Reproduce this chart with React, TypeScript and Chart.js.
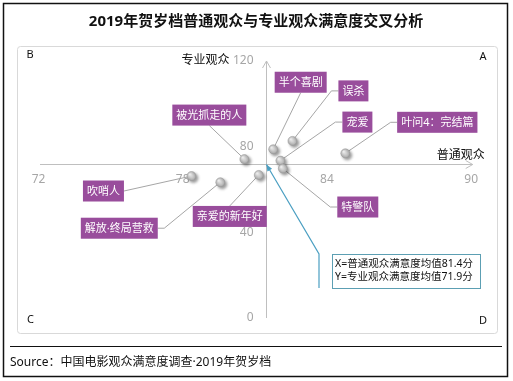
import { useEffect, useRef } from 'react';
import { Chart, registerables } from 'chart.js';

Chart.register(...registerables);

const TITLE = '2019年贺岁档普通观众与专业观众满意度交叉分析';
const SOURCE = 'Source：中国电影观众满意度调查·2019年贺岁档';

const movies = ['半个喜剧', '误杀', '宠爱', '特警队', '被光抓走的人', '亲爱的新年好', '叶问4：完结篇', '吹哨人', '解放·终局营救'];
const generalScores = [81.7, 82.5, 82.0, 82.1, 80.5, 81.1, 84.7, 78.3, 79.5];
const proScores = [78.8, 82.7, 73.5, 69.8, 74.2, 66.8, 76.9, 66.3, 63.4];

const xTicks = [72, 78, 84, 90];
const yTicks = [0, 40, 80, 120];
const meanGeneral = 81.4;
const meanPro = 71.9;
const xAxisTitle = '普通观众';
const yAxisTitle = '专业观众';
const noteLines = [`X=普通观众满意度均值${meanGeneral}分`, `Y=专业观众满意度均值${meanPro}分`];

// layout of label boxes: pixel offset of the box centre from its point
const labelLayout = [
  { dx: 27.5, dy: -67, side: 'bottom', stub: 0 },
  { dx: 61, dy: -50, side: 'left', stub: 7 },
  { dx: 77, dy: -38.5, side: 'left', stub: 7 },
  { dx: 75, dy: 38.5, side: 'left', stub: 7 },
  { dx: -35, dy: -44, side: 'bottom', stub: 0 },
  { dx: -29, dy: 41.5, side: 'top', stub: 0 },
  { dx: 92, dy: -31, side: 'left', stub: 6.5 },
  { dx: -88, dy: 15, side: 'right', stub: 0 },
  { dx: -101, dy: 46, side: 'right', stub: 6.5 },
];

const W = 513;
const H = 381;
const FONT = '"Noto Sans", "Noto Sans CJK SC", sans-serif';
const PURPLE = '#994d9c';

function labelBox(ctx: CanvasRenderingContext2D, i: number, px: number, py: number) {
  ctx.font = `11px ${FONT}`;
  const w = ctx.measureText(movies[i]).width + 8;
  const h = 21;
  const L = labelLayout[i];
  const bx = px + L.dx;
  const by = py + L.dy;
  let ax = bx, ay = by, ex = bx, ey = by;
  if (L.side === 'left') { ax = bx - w / 2; ex = ax - L.stub; }
  else if (L.side === 'right') { ax = bx + w / 2; ex = ax + L.stub; }
  else if (L.side === 'bottom') { ay = by + h / 2; ey = ay; }
  else { ay = by - h / 2; ey = ay; }
  return { w, h, bx, by, ax, ay, ex, ey };
}

const quadrantPlugin = {
  id: 'quadrant',
  beforeDraw(chart: any) {
    const { ctx } = chart;
    const xs = chart.scales.x;
    const ys = chart.scales.y;
    ctx.save();
    ctx.fillStyle = '#fff';
    ctx.fillRect(0, 0, W, H);
    // outer frame
    ctx.strokeStyle = '#111';
    ctx.lineWidth = 1.5;
    ctx.strokeRect(3.5, 3.5, 504, 373);
    // title
    ctx.fillStyle = '#111';
    ctx.font = `bold 15px ${FONT}`;
    ctx.textAlign = 'center';
    ctx.textBaseline = 'middle';
    ctx.fillText(TITLE, 256, 22);
    // panel
    ctx.strokeStyle = '#d9d9d9';
    ctx.lineWidth = 1;
    ctx.beginPath();
    ctx.roundRect(17.5, 46.5, 480, 287, 3);
    ctx.stroke();
    // source
    ctx.strokeStyle = '#111';
    ctx.beginPath();
    ctx.moveTo(10, 346.5);
    ctx.lineTo(502, 346.5);
    ctx.stroke();
    ctx.fillStyle = '#111';
    ctx.font = `12px ${FONT}`;
    ctx.textAlign = 'left';
    ctx.fillText(SOURCE, 10, 363);
    // quadrant letters
    ctx.font = `11px ${FONT}`;
    ctx.textAlign = 'center';
    ctx.fillText('B', 30, 55);
    ctx.fillText('A', 483, 56.5);
    ctx.fillText('C', 30.5, 319.5);
    ctx.fillText('D', 483, 321);

    // axes crossing at the means
    const cx = Math.round(xs.getPixelForValue(meanGeneral)) + 0.5;
    const cy = Math.round(ys.getPixelForValue(meanPro)) + 0.5;
    const xl = xs.getPixelForValue(xTicks[0]);
    const xr = xs.getPixelForValue(xTicks[xTicks.length - 1]);
    const yb = ys.getPixelForValue(yTicks[0]);
    const yt = ys.getPixelForValue(yTicks[yTicks.length - 1]);
    ctx.strokeStyle = '#bfbfbf';
    ctx.lineWidth = 1;
    ctx.beginPath();
    ctx.moveTo(xl, cy);
    ctx.lineTo(xr, cy);
    ctx.moveTo(xr - 7, cy - 4);
    ctx.lineTo(xr, cy);
    ctx.lineTo(xr - 7, cy + 4);
    ctx.moveTo(cx, yb);
    ctx.lineTo(cx, yt);
    ctx.moveTo(cx - 4, yt + 7);
    ctx.lineTo(cx, yt);
    ctx.lineTo(cx + 4, yt + 7);
    ctx.stroke();

    // tick labels
    ctx.fillStyle = '#a6a6a6';
    ctx.font = `12px ${FONT}`;
    ctx.textAlign = 'center';
    xTicks.forEach((v) => ctx.fillText(String(v), xs.getPixelForValue(v) - 1.5, cy + 15));
    ctx.textAlign = 'right';
    yTicks.forEach((v) => ctx.fillText(String(v), cx - 13, ys.getPixelForValue(v)));

    // axis titles
    ctx.fillStyle = '#111';
    ctx.textAlign = 'right';
    ctx.fillText(yAxisTitle, cx - 37, yt);
    ctx.fillText(xAxisTitle, xr + 12, cy - 9);

    // leader lines
    ctx.strokeStyle = '#a6a6a6';
    ctx.lineWidth = 1;
    movies.forEach((_, i) => {
      const px = xs.getPixelForValue(generalScores[i]);
      const py = ys.getPixelForValue(proScores[i]);
      const b = labelBox(ctx, i, px, py);
      ctx.beginPath();
      ctx.moveTo(px, py);
      ctx.lineTo(b.ex, b.ey);
      ctx.lineTo(b.ax, b.ay);
      ctx.stroke();
    });
    ctx.restore();
  },
  beforeDatasetsDraw(chart: any) {
    const { ctx } = chart;
    ctx.save();
    ctx.shadowColor = 'rgba(0,0,0,0.4)';
    ctx.shadowBlur = 3;
    ctx.shadowOffsetX = 2;
    ctx.shadowOffsetY = 2;
  },
  afterDatasetsDraw(chart: any) {
    const { ctx } = chart;
    ctx.restore();
    const xs = chart.scales.x;
    const ys = chart.scales.y;
    ctx.save();
    // label boxes
    movies.forEach((name, i) => {
      const px = xs.getPixelForValue(generalScores[i]);
      const py = ys.getPixelForValue(proScores[i]);
      const b = labelBox(ctx, i, px, py);
      ctx.fillStyle = PURPLE;
      ctx.fillRect(b.bx - b.w / 2, b.by - b.h / 2, b.w, b.h);
      ctx.fillStyle = '#fff';
      ctx.textAlign = 'center';
      ctx.textBaseline = 'middle';
      ctx.fillText(name, b.bx, b.by + 0.5);
    });

    // note callout
    const cx = xs.getPixelForValue(meanGeneral) + 0.5;
    const cy = ys.getPixelForValue(meanPro) + 0.5;
    const nb = { x: 332, y: 254, w: 148, h: 34 };
    const lx = nb.x - 13;
    ctx.strokeStyle = '#4b9fc2';
    ctx.lineWidth = 1.2;
    ctx.beginPath();
    ctx.moveTo(cx, cy);
    ctx.lineTo(lx, nb.y);
    ctx.lineTo(lx, nb.y + nb.h);
    ctx.stroke();
    const ang = Math.atan2(cy - nb.y, cx - lx);
    ctx.fillStyle = '#4b9fc2';
    ctx.beginPath();
    ctx.moveTo(cx, cy);
    ctx.lineTo(cx - 7 * Math.cos(ang - 0.4), cy - 7 * Math.sin(ang - 0.4));
    ctx.lineTo(cx - 7 * Math.cos(ang + 0.4), cy - 7 * Math.sin(ang + 0.4));
    ctx.closePath();
    ctx.fill();

    ctx.fillStyle = '#fff';
    ctx.fillRect(nb.x, nb.y, nb.w, nb.h);
    ctx.strokeStyle = '#5c9fb3';
    ctx.lineWidth = 1;
    ctx.strokeRect(nb.x + 0.5, nb.y + 0.5, nb.w, nb.h);
    ctx.fillStyle = '#111';
    ctx.font = `10.5px ${FONT}`;
    ctx.textAlign = 'left';
    ctx.textBaseline = 'middle';
    ctx.fillText(noteLines[0], nb.x + 3, nb.y + 10.5);
    ctx.fillText(noteLines[1], nb.x + 3, nb.y + 23.5);
    ctx.restore();
  },
};

export default function App() {
  const ref = useRef<HTMLCanvasElement>(null);
  useEffect(() => {
    document.body.style.margin = '0';
    const chart = new Chart(ref.current as HTMLCanvasElement, {
      type: 'scatter',
      data: {
        datasets: [
          {
            data: movies.map((_, i) => ({ x: generalScores[i], y: proScores[i] })),
            pointRadius: 4.5,
            pointHoverRadius: 4.5,
            borderWidth: 0.5,
            borderColor: '#999999',
            backgroundColor: (c: any) => {
              if (c.type !== 'data') return '#c0c0c0';
              const ch = c.chart;
              const xs = ch.scales.x;
              const ys = ch.scales.y;
              if (!xs || !ys) return '#c0c0c0';
              const px = xs.getPixelForValue(c.raw.x);
              const py = ys.getPixelForValue(c.raw.y);
              if (!isFinite(px) || !isFinite(py)) return '#c0c0c0';
              const g = ch.ctx.createRadialGradient(px - 1.5, py - 1.5, 0.5, px, py, 5);
              g.addColorStop(0, '#f4f4f4');
              g.addColorStop(1, '#a3a3a3');
              return g;
            },
          },
        ],
      },
      options: {
        responsive: false,
        devicePixelRatio: 1,
        animation: false,
        layout: { padding: { left: 40, right: 40.3, top: 61, bottom: 63 } },
        scales: {
          x: { type: 'linear', min: xTicks[0], max: xTicks[xTicks.length - 1], display: false },
          y: { type: 'linear', min: yTicks[0], max: yTicks[yTicks.length - 1], display: false },
        },
        plugins: { legend: { display: false }, tooltip: { enabled: false } },
        events: [],
      },
      plugins: [quadrantPlugin],
    });
    return () => chart.destroy();
  }, []);
  return (
    <div style={{ width: W, height: H }}>
      <canvas ref={ref} width={W} height={H} style={{ display: 'block' }} />
    </div>
  );
}
